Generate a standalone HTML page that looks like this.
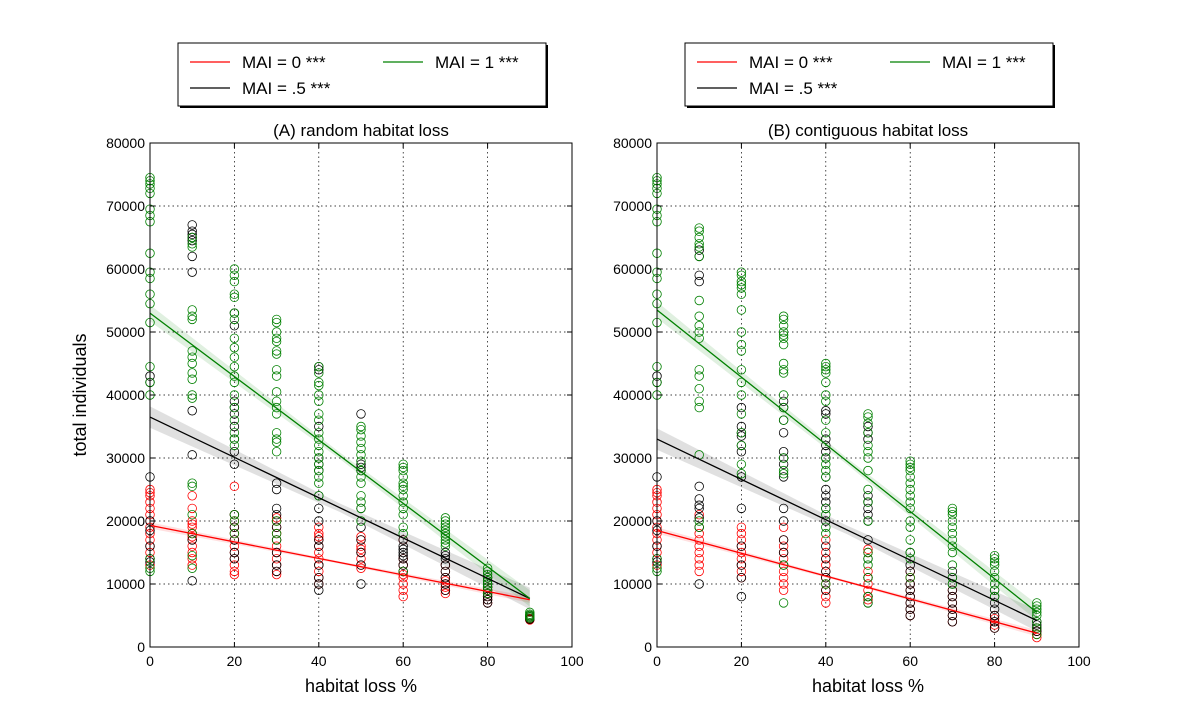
<!DOCTYPE html>
<html><head><meta charset="utf-8"><style>
body{margin:0;background:#fff;}
svg{display:block;font-family:"Liberation Sans",sans-serif;}
</style></head><body>
<svg id="chart" width="1200" height="720"></svg>
<script>
const xTicks=[0,20,40,60,80,100];
const yTicks=[0,10000,20000,30000,40000,50000,60000,70000,80000];
const groups=[0,10,20,30,40,50,60,70,80,90];
const seriesNames=["MAI = 0 ***","MAI = .5 ***","MAI = 1 ***"];
const seriesColors=["#ff0000","#000000","#008000"];
const panelTitles=["(A) random habitat loss","(B) contiguous habitat loss"];
// regression endpoints (thousands) at x=0 and x=90: [panel][series]
const fitStart=[[19.3,36.5,53.0],[18.5,33.0,53.5]];
const fitEnd=[[7.5,7.7,7.7],[2.2,4.2,5.5]];
// scatter values, thousands, per group
const aRed=[[25,24.5,24,23,22,21,20,19,18,17,16,15,14,13],[24,22,20,19.5,19,18,17.5,17,16,15,14,13],[25.5,21,20,19,18,17,16,15,14,13,12,11.5],[20.5,20,19,18,17,16,15,14,13,12,11.5],[19,18,17.5,17,16,15,14,13,12,11,10],[17.5,17,16,15.5,15,14,13,12.5],[17,14,13,12,11.5,11,10,9,8],[13,12,11,10.5,10,9.5,9,8.5],[9.5,9,8.5,8,7.5,7],[4.5,4.4,4.3]];
const aBlack=[[43,42,27,20,18.5,16,14,13.5],[67,66,65.5,65,64.5,62,59.5,37.5,30.5,10.5,17],[53,51,39,38,37,35,33,31,29,21,19,17,15,14],[26,25,22,21,19,17,15,13,12],[44.5,44,35,30,29,28,24,22,20,17,16,13,11,10,9],[37,29,28.5,28,22,19,17,15,13,10],[17,16,15.5,15,14.5,14,13,12],[15,14.5,14,13,12,11,10,9],[11,10.5,10,9.5,9,8.5,8,7.5,7],[5,4.8,4.6,4.4]];
const aGreen=[[74.5,74,73.5,72.8,72,69.5,68.5,67.5,62.5,59.5,58.5,56,54.5,51.5,44.5,42,40,14,12.5,12],[65,64,63.5,53.5,52.5,52,47,46,45,43.5,42.5,40,39.5,26,25.5,21,18,14.5,12.5],[60,59,58,56,55.5,53,52,49,47.5,46,44.5,43,42,40,38,36,34,33,32,21,20,18],[52,51.5,50,49,48.5,47,46.5,44,43,40.5,39,38,37,34,33,32.5,31,20,18,17],[44.5,43.5,42,41.5,40,39,37,36,34,33,32,31,30,29,28,27,26,24],[35,34.5,33.5,32.5,31.5,30.5,29.5,28,27,26,24,23,22,20],[29,28.5,28,27,26,25.5,25,24,23,22,21,19,18,12],[20.5,20,19.5,19,18.5,18,17.5,17,16.5,16],[12.5,12,11.5,11,10.5,10,9.5,9,8.5],[5.5,5.2,5,4.8,4.6]];
const bRed=[[25,24.5,24,23,22,21,20,19,18,17,16,15,14,13],[21,19,18,17,16,15,14,13,12],[19,18,17,16,15,14,13,12,11],[19,17,16,15,14,12,11,10,9],[17,15,14,13,12,11,10,9,8,7],[15.5,15,12,11,10,9,8,7.5],[12,11,10,9,8,7,6,5],[9,8,7,6,5,4],[5,4.5,4,3.5,3],[3,2.5,2,1.5]];
const bBlack=[[43,42,27,20,18.5,16,14,13.5],[63,62,59,58,25.5,23.5,22.5,22,20.5,19,10],[38,35,34,33.5,32,31,27,22,16,13,11,8],[39,38,36,34,31,30,29,27,22,20,17,15,13],[37.5,37,33,32,31,30,27,25,24,23,22,20,16,14,12,11,9],[35,34,33,24,23,22,21,20,17,14,11,8,7],[15,13,12,10,9,8,7,6,5],[12,11,10,9,8,7,6,5,4],[9,8,7,6,5,4,3],[4,3.5,3,2.5]];
const bGreen=[[74.5,74,73.5,72.8,72,69.5,68.5,67.5,62.5,59.5,58.5,56,54.5,51.5,44.5,42,40,14,12.5,12],[66.5,66,65,64,63.5,62,55,52.5,51,50,49,44,43,41,39,38,30.5,20,19],[59.5,59,58,57.5,57,56,53.5,50,48,47,44,42,40,37,34,32,29,27.5],[52.5,52,51,50,49.5,49,48,45,44,43.5,40,38,36,30,28,27.5,13,7],[45,44.5,44,43.5,42,40,39,36,34,30,29,28,27,22,21,19,18,10],[37,36.5,35.5,34,32,31,30,28,25,23,20,15,14,13,11,8,7],[29.5,29,28.5,28,27,26,25,24,23,22,20,19,17,15,14,11],[22,21.5,21,20,19,18,17,16,15,13,11,10],[14.5,14,13.5,13,12,11,10,9,8],[7,6.5,6,5.5,5,4,3,2]];
const panelData=[[aRed,aBlack,aGreen],[bRed,bBlack,bGreen]];

const NS="http://www.w3.org/2000/svg";
const svg=document.getElementById('chart');
function mk(tag,attrs,parent){const e=document.createElementNS(NS,tag);for(const k in attrs)e.setAttribute(k,attrs[k]);(parent||svg).appendChild(e);return e;}
const panelLeft=[150,657];
const PW=422,PT=143,PB=647;
function sx(p,v){return panelLeft[p]+v/100*PW;}
function sy(v){return PB-v/80000*(PB-PT);}

for(let p=0;p<2;p++){
  const g=mk('g',{});
  
  
  const L=panelLeft[p];
  xTicks.forEach(t=>{const x=sx(p,t);if(t>0&&t<100){const l=mk('line',{x1:x,x2:x,y1:PT,y2:PB,stroke:'#000','stroke-width':0.7,'stroke-dasharray':'1.5,3'},g);}});
  yTicks.forEach(t=>{const y=sy(t);if(t>0&&t<80000){const l=mk('line',{x1:L,x2:L+PW,y1:y,y2:y,stroke:'#000','stroke-width':0.7,'stroke-dasharray':'1.5,3'},g);}});
  for(let s=0;s<3;s++){
    const a=fitStart[p][s]*1000,b=fitEnd[p][s]*1000;
    const f=x=>a+(b-a)*x/90;
    const hw=[500,1700,1300][s];
    const up=[],dn=[];
    for(let x=0;x<=90;x+=5){const w=hw*(0.4+0.6*Math.abs(x-45)/45);up.push(sx(p,x)+','+sy(f(x)+w));dn.unshift(sx(p,x)+','+sy(f(x)-w));}
    const band=mk('polygon',{points:up.concat(dn).join(' '),fill:seriesColors[s],'fill-opacity':0.12,stroke:'none'},g);
    
    
  }
  for(let s=0;s<3;s++){
    const data=panelData[p][s];
    groups.forEach((gx,i)=>{data[i].forEach(v=>{
      const c=mk('circle',{cx:sx(p,gx),cy:sy(v*1000),r:4.3,fill:'none',stroke:seriesColors[s],'stroke-width':0.8},g);
      
      
    });});
  }
  for(let s=0;s<3;s++){
    const a=fitStart[p][s]*1000,b=fitEnd[p][s]*1000;
    const ln=mk('line',{x1:sx(p,0),y1:sy(a),x2:sx(p,90),y2:sy(b),stroke:seriesColors[s],'stroke-width':1.3},g);
    
    
  }
  const fr=mk('rect',{x:L,y:PT,width:PW,height:PB-PT,fill:'none',stroke:'#000','stroke-width':1},g);
  
  
  xTicks.forEach(t=>{const x=sx(p,t);
    mk('line',{x1:x,x2:x,y1:PB,y2:PB-5,stroke:'#000'},g);mk('line',{x1:x,x2:x,y1:PT,y2:PT+5,stroke:'#000'},g);
    const tx=mk('text',{x:x,y:PB+19,'text-anchor':'middle','font-size':14},g);tx.textContent=t;
    });
  yTicks.forEach(t=>{const y=sy(t);
    mk('line',{x1:L,x2:L+5,y1:y,y2:y,stroke:'#000'},g);mk('line',{x1:L+PW,x2:L+PW-5,y1:y,y2:y,stroke:'#000'},g);
    const tx=mk('text',{x:L-5,y:y+5,'text-anchor':'end','font-size':14},g);tx.textContent=t;
    });
  const tt=mk('text',{x:L+PW/2,y:136,'text-anchor':'middle','font-size':17},g);tt.textContent=panelTitles[p];
  
  const xl=mk('text',{x:L+PW/2,y:692,'text-anchor':'middle','font-size':18},g);xl.textContent='habitat loss %';
  
  const lx=L+28,ly=43;
  const lg=mk('g',{},g);
  
  
  mk('rect',{x:lx+2,y:ly+2,width:368,height:63,fill:'#000'},lg);
  mk('rect',{x:lx,y:ly,width:368,height:63,fill:'#fff',stroke:'#000','stroke-width':1},lg);
  const pos=[[lx+12,ly+19],[lx+12,ly+45],[lx+205,ly+19]];
  for(let s=0;s<3;s++){
    const e=mk('g',{},lg);
    
    
    mk('line',{x1:pos[s][0],x2:pos[s][0]+40,y1:pos[s][1],y2:pos[s][1],stroke:seriesColors[s],'stroke-width':1.3},e);
    const t=mk('text',{x:pos[s][0]+52,y:pos[s][1]+6,'font-size':17},e);t.textContent=seriesNames[s];
  }
}
const yl=mk('text',{x:86,y:395,'text-anchor':'middle','font-size':18,transform:'rotate(-90 86 395)'});
yl.textContent='total individuals';


</script>
</body></html>
